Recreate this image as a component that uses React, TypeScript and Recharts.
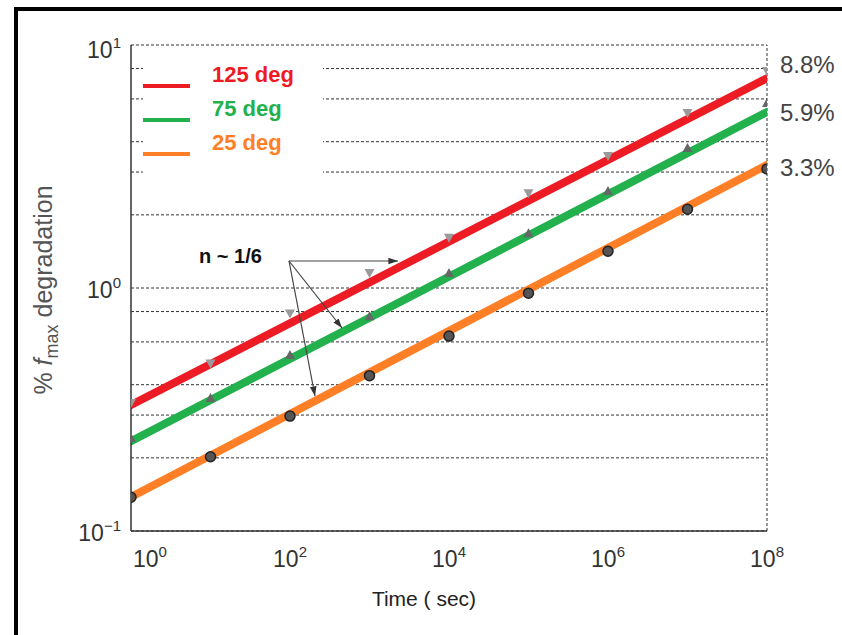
import { CartesianGrid, ComposedChart, Line, ReferenceLine, Scatter, XAxis, YAxis } from "recharts";

// measurement times (sec) and measured degradation (%) per temperature
const TIMES = [1, 1e1, 1e2, 1e3, 1e4, 1e5, 1e6, 1e7, 1e8];
const HOT_MEASURED = [0.33, 0.48, 0.77, 1.13, 1.58, 2.41, 3.43, 5.15, 7.67];
const WARM_MEASURED = [0.237, 0.346, 0.52, 0.75, 1.13, 1.65, 2.46, 3.7, 5.66];
const ROOM_MEASURED = [0.139, 0.204, 0.3, 0.44, 0.64, 0.96, 1.43, 2.13, 3.12];

// power-law fits (straight on log-log)
const FIT_TIMES = [1, 1e8];
const HOT_FIT = [0.33, 7.3];
const WARM_FIT = [0.234, 5.3];
const ROOM_FIT = [0.138, 3.21];

const SERIES_NAMES = ["125 deg", "75 deg", "25 deg"];
const END_LABELS = ["8.8%", "5.9%", "3.3%"];
const COLORS = ["#ed1c24", "#22b14c", "#ff7f27"];

const X_TICKS = [1, 1e2, 1e4, 1e6, 1e8];
const Y_TICKS = [0.1, 0.2, 0.3, 0.4, 0.5, 0.6, 0.7, 0.8, 0.9, 1, 2, 3, 4, 5, 6, 7, 8, 9, 10];

const toPoints = (ys: number[], xs: number[]) => xs.map((t, i) => ({ t, v: ys[i] }));

const hotPts = toPoints(HOT_MEASURED, TIMES);
const warmPts = toPoints(WARM_MEASURED, TIMES);
const roomPts = toPoints(ROOM_MEASURED, TIMES);
const hotFit = toPoints(HOT_FIT, FIT_TIMES);
const warmFit = toPoints(WARM_FIT, FIT_TIMES);
const roomFit = toPoints(ROOM_FIT, FIT_TIMES);

const FONT = "'Liberation Sans', Arial, sans-serif";

function XTick({ x, y, payload }: any) {
  const exp = Math.round(Math.log10(payload.value));
  const first = exp === 0;
  return (
    <text x={first ? x + 2 : x} y={y + 28} textAnchor={first ? "start" : "middle"} fontSize={23} fill="#333" fontFamily={FONT}>
      10<tspan dy={-10} fontSize={15}>{exp}</tspan>
    </text>
  );
}

function YTick({ x, y, payload }: any) {
  const v = payload.value;
  if (v !== 0.1 && v !== 1 && v !== 10) return null;
  const exp = Math.round(Math.log10(v));
  return (
    <text x={x - 2} y={y + (exp === 1 ? 13 : 10)} textAnchor="end" fontSize={23} fill="#333" fontFamily={FONT}>
      10<tspan dy={-10} fontSize={15}>{exp < 0 ? "\u2212" + Math.abs(exp) : exp}</tspan>
    </text>
  );
}

const downTri = (fill: string) => (p: any) => (
  <path d={`M${p.cx - 5},${p.cy - 6} L${p.cx + 5},${p.cy - 6} L${p.cx},${p.cy + 3} Z`} fill={fill} />
);
const upTri = (fill: string) => (p: any) => (
  <path d={`M${p.cx - 5},${p.cy + 2} L${p.cx + 5},${p.cy + 2} L${p.cx},${p.cy - 7} Z`} fill={fill} />
);
const dotShape = (p: any) => <circle cx={p.cx} cy={p.cy + 1} r={5} fill="#555" stroke="#222" strokeWidth={1.5} />;

export default function App() {
  return (
    <div style={{ position: "absolute", left: 0, top: 0, width: 842, height: 635, background: "#fff", fontFamily: FONT, overflow: "hidden" }}>
      <div style={{ position: "absolute", left: 14, top: 7, width: 828, height: 4, background: "#000" }} />
      <div style={{ position: "absolute", left: 14, top: 7, width: 4, height: 628, background: "#000" }} />
      <div style={{ position: "absolute", left: 0, top: 0 }}>
        <ComposedChart width={842} height={635} margin={{ top: 45, right: 75, bottom: 44, left: 0 }}>
          <CartesianGrid vertical={false} stroke="#333" strokeDasharray="3 2" />
          <XAxis
            dataKey="t"
            type="number"
            scale="log"
            domain={[1, 1e8]}
            ticks={X_TICKS}
            allowDataOverflow
            height={60}
            tickLine={false}
            axisLine={{ stroke: "#333", strokeWidth: 1.5 }}
            tick={<XTick />}
          />
          <YAxis
            dataKey="v"
            type="number"
            scale="log"
            domain={[0.1, 10]}
            ticks={Y_TICKS}
            allowDataOverflow
            width={131}
            tickLine={false}
            axisLine={{ stroke: "#333", strokeWidth: 1.5 }}
            tick={<YTick />}
          />
          <ReferenceLine x={1e8} stroke="#333" strokeDasharray="3 2" />
          <Scatter data={hotPts} dataKey="v" shape={downTri("#9a9a9a")} isAnimationActive={false} />
          <Scatter data={warmPts} dataKey="v" shape={upTri("#666")} isAnimationActive={false} />
          <Scatter data={roomPts} dataKey="v" shape={dotShape} isAnimationActive={false} />
          <Line data={hotFit} dataKey="v" stroke={COLORS[0]} strokeWidth={8} strokeLinecap="round" dot={false} activeDot={false} isAnimationActive={false} />
          <Line data={warmFit} dataKey="v" stroke={COLORS[1]} strokeWidth={8} strokeLinecap="round" dot={false} activeDot={false} isAnimationActive={false} />
          <Line data={roomFit} dataKey="v" stroke={COLORS[2]} strokeWidth={8} strokeLinecap="round" dot={false} activeDot={false} isAnimationActive={false} />
        </ComposedChart>
      </div>
      <svg width={842} height={635} style={{ position: "absolute", left: 0, top: 0 }} fontFamily={FONT}>
        <defs>
          <marker id="ah" viewBox="0 0 10 10" refX="10" refY="5" markerWidth="8" markerHeight="8" orient="auto-start-reverse">
            <path d="M0,1.5 L10,5 L0,8.5 Z" fill="#333" />
          </marker>
        </defs>
        {/* legend */}
        <rect x={143} y={60} width={180} height={116} fill="#fff" />
        {SERIES_NAMES.map((name, i) => (
          <g key={name}>
            <line x1={143} x2={190} y1={86 + i * 34} y2={86 + i * 34} stroke={COLORS[i]} strokeWidth={4} />
            <text x={212} y={82 + i * 34} fontSize={22} fontWeight="bold" fill={COLORS[i]}>{name}</text>
          </g>
        ))}
        {/* end labels */}
        {END_LABELS.map((lab, i) => (
          <text key={lab} x={780} y={[73, 121, 176][i]} fontSize={24} fill="#444">{lab}</text>
        ))}
        {/* slope annotation */}
        <text x={199} y={263} fontSize={20} fontWeight="bold" fill="#111">n ~ 1/6</text>
        <g stroke="#444" strokeWidth={1.2} markerEnd="url(#ah)">
          <line x1={289} y1={261} x2={398} y2={261} />
          <line x1={289} y1={261} x2={342} y2={328} />
          <line x1={289} y1={261} x2={315} y2={396} />
        </g>
        {/* axis titles */}
        <text x={424} y={606} textAnchor="middle" fontSize={21} fill="#222">Time ( sec)</text>
        <text transform="translate(52,290) rotate(-90)" textAnchor="middle" fontSize={25} fill="#555">
          %  <tspan fontStyle="italic">f</tspan>
          <tspan dy={6} fontSize={18}>max</tspan>
          <tspan dy={-6}> degradation</tspan>
        </text>
      </svg>
    </div>
  );
}
